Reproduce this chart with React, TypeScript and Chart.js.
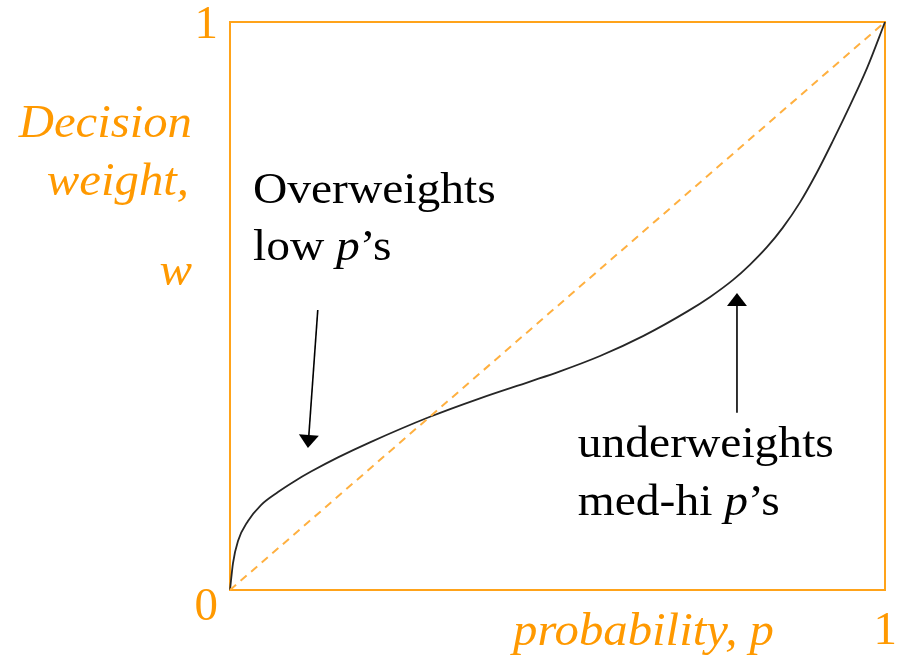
import React, { useEffect, useRef } from "react";
import { Chart, registerables } from "chart.js";

Chart.register(...registerables);

// Probability weighting curve
const probability = [0, 0.0046, 0.0122, 0.0275, 0.0473, 0.0733, 0.0992, 0.1237, 0.1649, 0.2137, 0.3053, 0.3817, 0.458, 0.5038, 0.5649, 0.6305, 0.699, 0.733, 0.768, 0.794, 0.82, 0.844, 0.87, 0.896, 0.921, 0.947, 0.973, 1];
const decisionWeight = [0, 0.0475, 0.0863, 0.1215, 0.1496, 0.1725, 0.192, 0.2085, 0.2335, 0.26, 0.305, 0.3375, 0.367, 0.385, 0.412, 0.447, 0.491, 0.516, 0.546, 0.573, 0.604, 0.638, 0.682, 0.735, 0.792, 0.854, 0.92, 1];

// Reference diagonal w = p
const diagonalP = [0, 1];
const diagonalW = [0, 1];

// Axis tick labels
const xTickValues = [1];
const xTickLabels = ["1"];
const yTickValues = [0, 1];
const yTickLabels = ["0", "1"];

// Annotation arrows (data coordinates): [fromP, fromW, toP, toW]
const arrowOver = [0.134, 0.493, 0.119, 0.25];
const arrowUnder = [0.774, 0.312, 0.774, 0.523];

// Annotation texts ("|" toggles italic)
const overText = ["Overweights", "low |p|’s"];
const overPos = [0.035, 0.681, 0.581]; // p, baseline w line1, line2
const underText = ["underweights", "med-hi |p|’s"];
const underPos = [0.531, 0.234, 0.132];

const ORANGE = "#FF9900";
const SERIF = '"Liberation Serif", "Times New Roman", serif';

type Seg = { t: string; i: boolean };

function drawRich(
  ctx: CanvasRenderingContext2D,
  text: string,
  x: number,
  y: number,
  size: number,
  color: string,
  align: "left" | "right",
  sx: number,
  italicAll = false
) {
  const parts = text.split("|");
  const segs: Seg[] = parts.map((t, idx) => ({ t, i: italicAll || idx % 2 === 1 }));
  ctx.save();
  ctx.fillStyle = color;
  ctx.textBaseline = "alphabetic";
  ctx.textAlign = "left";
  const fontFor = (it: boolean) => `${it ? "italic " : ""}${size}px ${SERIF}`;
  const widths: number[] = [];
  let total = 0;
  for (const s of segs) {
    ctx.font = fontFor(s.i);
    const w = ctx.measureText(s.t).width;
    widths.push(w);
    total += w;
  }
  const start = align === "right" ? x - total * sx : x;
  ctx.translate(start, y);
  ctx.scale(sx, 1);
  let cx = 0;
  segs.forEach((s, k) => {
    ctx.font = fontFor(s.i);
    ctx.fillText(s.t, cx, 0);
    cx += widths[k];
  });
  ctx.restore();
}

function drawArrow(ctx: CanvasRenderingContext2D, x1: number, y1: number, x2: number, y2: number) {
  const ang = Math.atan2(y2 - y1, x2 - x1);
  const headLen = 13;
  const headHalf = 10;
  const bx = x2 - headLen * Math.cos(ang);
  const by = y2 - headLen * Math.sin(ang);
  ctx.save();
  ctx.strokeStyle = "#000";
  ctx.fillStyle = "#000";
  ctx.lineWidth = 1.6;
  ctx.beginPath();
  ctx.moveTo(x1, y1);
  ctx.lineTo(bx, by);
  ctx.stroke();
  ctx.beginPath();
  ctx.moveTo(x2, y2);
  ctx.lineTo(bx + headHalf * Math.sin(ang), by - headHalf * Math.cos(ang));
  ctx.lineTo(bx - headHalf * Math.sin(ang), by + headHalf * Math.cos(ang));
  ctx.closePath();
  ctx.fill();
  ctx.restore();
}

export default function App() {
  const ref = useRef<HTMLCanvasElement | null>(null);

  useEffect(() => {
    if (!ref.current) return;

    const decor = {
      id: "decor",
      beforeDatasetsDraw(chart: any) {
        const { ctx, chartArea: a } = chart;
        ctx.save();
        ctx.strokeStyle = "#FFA31A";
        ctx.lineWidth = 2;
        ctx.strokeRect(a.left, a.top, a.right - a.left, a.bottom - a.top);
        ctx.restore();
      },
      afterDraw(chart: any) {
        const { ctx } = chart;
        const xs = chart.scales.x;
        const ys = chart.scales.y;
        const px = (v: number) => xs.getPixelForValue(v);
        const py = (v: number) => ys.getPixelForValue(v);

        // tick labels
        yTickValues.forEach((v, k) => {
          drawRich(ctx, yTickLabels[k], px(0) - 12, py(v) + (v === 0 ? 30 : 16), 46, ORANGE, "right", 1.02);
        });
        xTickValues.forEach((v, k) => {
          drawRich(ctx, xTickLabels[k], px(v) + 12, py(0) + 54, 46, ORANGE, "right", 1.02);
        });

        // axis titles
        drawRich(ctx, "probability, p", 513, 645, 46, ORANGE, "left", 1.06, true);
        drawRich(ctx, "Decision", 192, 137, 46, ORANGE, "right", 1.06, true);
        drawRich(ctx, "weight,", 189, 195, 46, ORANGE, "right", 1.06, true);
        drawRich(ctx, "w", 192, 285, 46, ORANGE, "right", 1.06, true);

        // annotations
        drawRich(ctx, overText[0], px(overPos[0]), py(overPos[1]), 44, "#000", "left", 1.08);
        drawRich(ctx, overText[1], px(overPos[0]), py(overPos[2]), 44, "#000", "left", 1.08);
        drawRich(ctx, underText[0], px(underPos[0]), py(underPos[1]), 44, "#000", "left", 1.08);
        drawRich(ctx, underText[1], px(underPos[0]), py(underPos[2]), 44, "#000", "left", 1.08);

        drawArrow(ctx, px(arrowOver[0]), py(arrowOver[1]), px(arrowOver[2]), py(arrowOver[3]));
        drawArrow(ctx, px(arrowUnder[0]), py(arrowUnder[1]), px(arrowUnder[2]), py(arrowUnder[3]));
      },
    };

    const chart = new Chart(ref.current, {
      type: "line",
      data: {
        datasets: [
          {
            data: diagonalP.map((p, k) => ({ x: p, y: diagonalW[k] })),
            borderColor: "#FFB040",
            borderWidth: 2,
            borderDash: [8, 6],
            pointRadius: 0,
            clip: false as any,
          },
          {
            data: probability.map((p, k) => ({ x: p, y: decisionWeight[k] })),
            borderColor: "#262626",
            borderWidth: 1.8,
            pointRadius: 0,
            cubicInterpolationMode: "monotone",
            clip: false as any,
          },
        ],
      },
      options: {
        animation: false,
        responsive: false,
        maintainAspectRatio: false,
        layout: { padding: { left: 230, right: 18, top: 22, bottom: 68 } },
        plugins: { legend: { display: false }, tooltip: { enabled: false } },
        scales: {
          x: { type: "linear", min: 0, max: 1, display: false },
          y: { type: "linear", min: 0, max: 1, display: false },
        },
      },
      plugins: [decor],
    });

    return () => chart.destroy();
  }, []);

  return (
    <div style={{ position: "absolute", left: 0, top: 0, width: 903, height: 658, background: "#fff" }}>
      <canvas ref={ref} width={903} height={658} style={{ display: "block", width: 903, height: 658 }} />
    </div>
  );
}
